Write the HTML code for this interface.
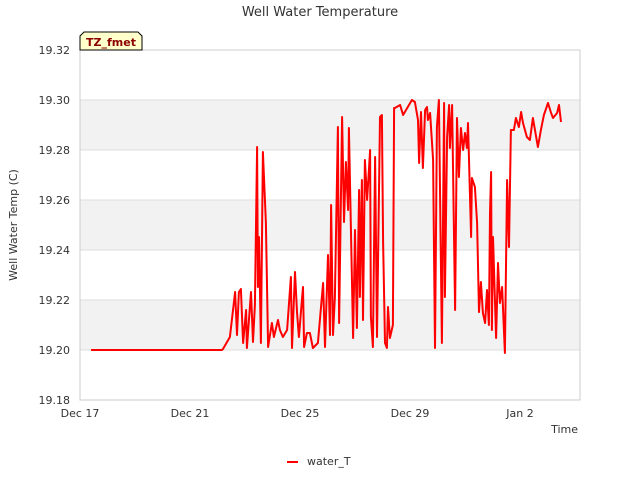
<!DOCTYPE html>
<html><head><meta charset="utf-8"><style>
body{margin:0;background:#fff;font-family:"Liberation Sans",sans-serif}
text{font-family:"DejaVu Sans","Liberation Sans",sans-serif}
</style></head><body>
<svg width="640" height="480" viewBox="0 0 640 480" xmlns="http://www.w3.org/2000/svg">
<text x="320" y="16" text-anchor="middle" font-size="13" fill="#333">Well Water Temperature</text>
<g id="bands"></g>
<g id="grid"></g>
<rect x="80" y="50" width="500" height="350" fill="none" stroke="#ccc"/>
<g id="yticks"></g>
<g id="xticks"></g>
<text transform="translate(17,225) rotate(-90)" text-anchor="middle" font-size="11" fill="#333">Well Water Temp (C)</text>
<text x="578" y="433" text-anchor="end" font-size="11" fill="#333">Time</text>
<path id="series" fill="none" stroke="#ff0000" stroke-width="2" stroke-linejoin="round"/>
<g>
<path d="M80,50 L80,36 L84,32 L138,32 L142,36 L142,50 Z" fill="#ffffcc" stroke="#000" stroke-width="1"/>
<text x="111" y="46" text-anchor="middle" font-size="11" font-weight="bold" fill="#8b0000">TZ_fmet</text>
</g>
<g>
<line x1="287" y1="462" x2="298" y2="462" stroke="#ff0000" stroke-width="2"/>
<text x="307" y="465" font-size="11" fill="#333">water_T</text>
</g>
</svg>
<script>
const days=[0.40,5.16,5.20,5.45,5.64,5.71,5.78,5.85,5.93,6.04,6.07,6.22,6.29,6.36,6.44,6.47,6.51,6.58,6.65,6.76,6.84,6.98,7.05,7.20,7.27,7.38,7.53,7.67,7.71,7.82,7.89,7.96,8.11,8.15,8.25,8.36,8.47,8.65,8.84,8.91,9.02,9.09,9.13,9.20,9.27,9.38,9.42,9.53,9.60,9.67,9.75,9.78,9.93,10.00,10.07,10.15,10.18,10.25,10.29,10.36,10.44,10.55,10.58,10.65,10.73,10.80,10.91,10.98,11.02,11.09,11.16,11.20,11.27,11.38,11.42,11.45,11.64,11.75,12.07,12.18,12.29,12.33,12.40,12.47,12.55,12.62,12.65,12.73,12.84,12.91,12.98,13.05,13.16,13.24,13.27,13.35,13.42,13.45,13.53,13.64,13.71,13.78,13.85,13.93,14.00,14.07,14.11,14.22,14.25,14.36,14.44,14.51,14.58,14.65,14.73,14.80,14.87,14.91,14.95,14.98,15.02,15.13,15.20,15.27,15.35,15.45,15.53,15.60,15.67,15.78,15.85,15.96,16.04,16.11,16.25,16.36,16.47,16.65,16.76,16.87,17.02,17.13,17.20,17.35,17.42,17.49];
const temps=[19.200,19.200,19.2004,19.2052,19.2232,19.206,19.2232,19.2244,19.2028,19.216,19.2008,19.2232,19.2032,19.218,19.2812,19.2252,19.2452,19.2028,19.2792,19.2508,19.2012,19.2108,19.2052,19.212,19.208,19.2052,19.208,19.2292,19.2008,19.2312,19.2152,19.2052,19.2252,19.2012,19.2068,19.2068,19.2008,19.2028,19.2268,19.2012,19.238,19.206,19.258,19.206,19.2212,19.2892,19.2108,19.2932,19.2512,19.2752,19.256,19.2888,19.2048,19.248,19.2088,19.264,19.2212,19.268,19.212,19.276,19.26,19.28,19.2132,19.2012,19.2772,19.2052,19.2932,19.294,19.2432,19.2028,19.2008,19.2172,19.2048,19.21,19.2968,19.2968,19.298,19.294,19.30,19.2992,19.292,19.2748,19.2952,19.2728,19.296,19.2972,19.292,19.2948,19.276,19.2008,19.2892,19.30,19.2028,19.2988,19.2212,19.2852,19.298,19.2808,19.298,19.216,19.2928,19.2692,19.2888,19.28,19.2868,19.2808,19.2908,19.2452,19.2688,19.2652,19.2508,19.2152,19.2272,19.2148,19.2108,19.224,19.21,19.2548,19.2712,19.208,19.2452,19.2048,19.2348,19.2188,19.2252,19.1988,19.268,19.2412,19.288,19.288,19.2928,19.2892,19.2952,19.2908,19.2852,19.284,19.2928,19.2812,19.288,19.294,19.2988,19.2948,19.2928,19.2948,19.298,19.2912];
const yTicks=[19.18,19.20,19.22,19.24,19.26,19.28,19.30,19.32];
const xTickDays=[0,4,8,12,16];
const xTickLabels=["Dec 17","Dec 21","Dec 25","Dec 29","Jan 2"];
const NS="http://www.w3.org/2000/svg";
const X0=80,X1=580,Y0=400,Y1=50,dMin=0,dMax=500/27.5,vMin=19.18,vMax=19.32;
function xs(d){return X0+(d-dMin)/(dMax-dMin)*(X1-X0);}
function ys(v){return Y0-(v-vMin)/(vMax-vMin)*(Y0-Y1);}
const bands=document.getElementById('bands'),grid=document.getElementById('grid'),yt=document.getElementById('yticks'),xt=document.getElementById('xticks');
for(let i=0;i<yTicks.length-1;i++){
 if(i%2===1){const r=document.createElementNS(NS,'rect');
 r.setAttribute('x',X0);r.setAttribute('width',X1-X0);
 r.setAttribute('y',ys(yTicks[i+1]));r.setAttribute('height',ys(yTicks[i])-ys(yTicks[i+1]));
 r.setAttribute('fill','#f2f2f2');
 
 
 bands.appendChild(r);}
}
yTicks.forEach(v=>{
 const l=document.createElementNS(NS,'line');
 l.setAttribute('x1',X0);l.setAttribute('x2',X1);l.setAttribute('y1',ys(v));l.setAttribute('y2',ys(v));
 l.setAttribute('stroke','#dddddd');
 
 
 grid.appendChild(l);
 const t=document.createElementNS(NS,'text');
 t.setAttribute('x',X0-10);t.setAttribute('y',ys(v)+4);t.setAttribute('text-anchor','end');
 t.setAttribute('font-size','11');t.setAttribute('fill','#333');t.textContent=v.toFixed(2);
 
 
 yt.appendChild(t);
});
xTickDays.forEach((d,i)=>{
 const t=document.createElementNS(NS,'text');
 t.setAttribute('x',xs(d));t.setAttribute('y',Y0+17);t.setAttribute('text-anchor','middle');
 t.setAttribute('font-size','11');t.setAttribute('fill','#333');t.textContent=xTickLabels[i];
 
 
 xt.appendChild(t);
});
document.getElementById('series').setAttribute('d',days.map((d,i)=>(i?'L':'M')+xs(d).toFixed(1)+','+ys(temps[i]).toFixed(1)).join(' '));
</script>
</body></html>
